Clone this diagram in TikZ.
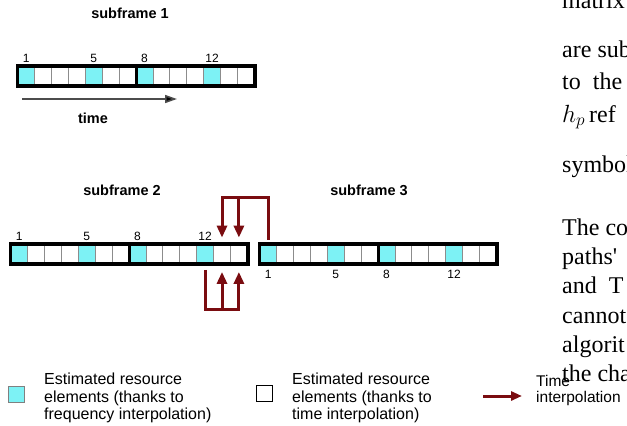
\documentclass[tikz,border=0pt]{standalone}
\usepackage{fontspec}
\setmainfont{Liberation Sans}
\newfontfamily\paperfont{Liberation Serif}
\usepackage{tikz}
\usetikzlibrary{arrows.meta,positioning}
\definecolor{pilotcyan}{RGB}{125,242,245}
\definecolor{interpred}{RGB}{122,12,16}
\tikzset{
  recell/.style={
    rectangle, draw=black!45, line width=0.8pt, fill=white,
    minimum width=16.9pt, minimum height=19pt, inner sep=0pt
  },
  pilot/.style={recell, fill=pilotcyan},
  frame/.style={draw=black, line width=3.5pt},
  sftitle/.style={font=\bfseries\fontsize{14.5}{16}\selectfont},
  idx/.style={font=\fontsize{12}{14}\selectfont, inner sep=0pt},
  timearrow/.style={draw=black!70, line width=1.6pt, -{Triangle[length=12pt,width=8pt,fill=black]}},
  interp/.style={draw=interpred, line width=3pt},
  interparrow/.style={interp, -{Triangle[length=12pt,width=10pt]}},
  legbox/.style={rectangle, minimum size=16pt, inner sep=0pt},
  legtext/.style={align=left, anchor=west, inner sep=0pt, font=\fontsize{16}{17.5}\selectfont},
  paper/.style={anchor=base west, inner sep=0pt, font=\paperfont\fontsize{24}{28}\selectfont},
}

\begin{document}
\begin{tikzpicture}[x=1pt, y=-1pt]
  \useasboundingbox (0,0) rectangle (627,426);

  % Resource element grids, one row of 14 symbols per subframe
  \foreach \b/\x/\y in {1/17.75/76, 2/10.75/254, 3/259.75/254} {
    \foreach \i in {1,...,14} {
      \pgfmathtruncatemacro\ispilot{(\i==1)||(\i==5)||(\i==8)||(\i==12)}
      \ifnum\ispilot=1 \def\cellstyle{pilot}\else\def\cellstyle{recell}\fi
      \node[\cellstyle] (s\b-c\i) at ({\x+(\i-0.5)*16.9}, \y) {};
    }
    \draw[frame] (s\b-c1.north west) rectangle (s\b-c14.south east);
    \draw[frame] (s\b-c7.north east) -- (s\b-c7.south east);
  }

  % Titles
  \node[sftitle] (sf1title) at (130,13) {subframe 1};
  \node[sftitle] (sf2title) at (122,190) {subframe 2};
  \node[sftitle] (sf3title) at (369,190) {subframe 3};

  % Symbol indices
  \foreach \i in {1,5,8,12} {
    \node[idx, above=3.5pt of s1-c\i] (s1-n\i) {\i};
    \node[idx, above=3.5pt of s2-c\i] (s2-n\i) {\i};
    \node[idx, below=6.5pt of s3-c\i] (s3-n\i) {\i};
  }

  % Time axis
  \coordinate (tstart) at (22,99);
  \coordinate (tend) at (177,99);
  \draw[timearrow] (tstart) -- (tend);
  \node[sftitle] (timelabel) at (93,118) {time};

  % Time interpolation across the subframe border
  \coordinate (fbtop) at (0,197);
  \coordinate (fbbot) at (0,309);
  \draw[interparrow] ([yshift=4.5pt]s3-c1.north) -- (s3-c1.north |- fbtop)
    -| ([yshift=6.5pt]s2-c13.north);
  \draw[interparrow] (s2-c14.north |- fbtop) -- ([yshift=6.5pt]s2-c14.north);
  \draw[interparrow] ([yshift=-6pt]s2-c12.south) -- (s2-c12.south |- fbbot)
    -| ([yshift=-8pt]s2-c14.south);
  \draw[interparrow] (s2-c13.south |- fbbot) -- ([yshift=-8pt]s2-c13.south);

  % Legend
  \node[legbox, draw=black!50, line width=0.6pt, fill=pilotcyan] (legfreq) at (16,394) {};
  \node[legtext] (legfreqtext) at (44,398)
    {Estimated resource\\elements (thanks to\\frequency interpolation)};
  \node[legbox, draw=black, line width=0.8pt, fill=white] (legtime) at (264.5,393) {};
  \node[legtext] (legtimetext) at (292,398)
    {Estimated resource\\elements (thanks to\\time interpolation)};
  \coordinate (legastart) at (483,396);
  \coordinate (legaend) at (522,396);
  \draw[interp, -{Triangle[length=11pt,width=9pt]}] (legastart) -- (legaend);
  \node[legtext, font=\fontsize{15.5}{16}\selectfont] (leginterp) at (536,390)
    {Time\\interpolation};

  % Cut-off page text on the right
  \begin{scope}
    \clip (0,0) rectangle (627,426);
    \node[paper] (p0) at (562,8) {matrix};
    \node[paper] (p1) at (562,57) {are sub};
    \node[paper] (p2) at (562,89) {to\hspace{12pt}the};
    \node[paper] (p3) at (562,122) {$h_p$\,ref};
    \node[paper] (p4) at (562,172) {symbol};
    \node[paper] (p5) at (562,235) {The co};
    \node[paper] (p6) at (562,264) {paths'};
    \node[paper] (p7) at (562,293) {and\hspace{12pt}T};
    \node[paper] (p8) at (562,323) {cannot};
    \node[paper] (p9) at (562,352) {algorit};
    \node[paper] (p10) at (562,381) {the cha};
  \end{scope}
\end{tikzpicture}
\end{document}
